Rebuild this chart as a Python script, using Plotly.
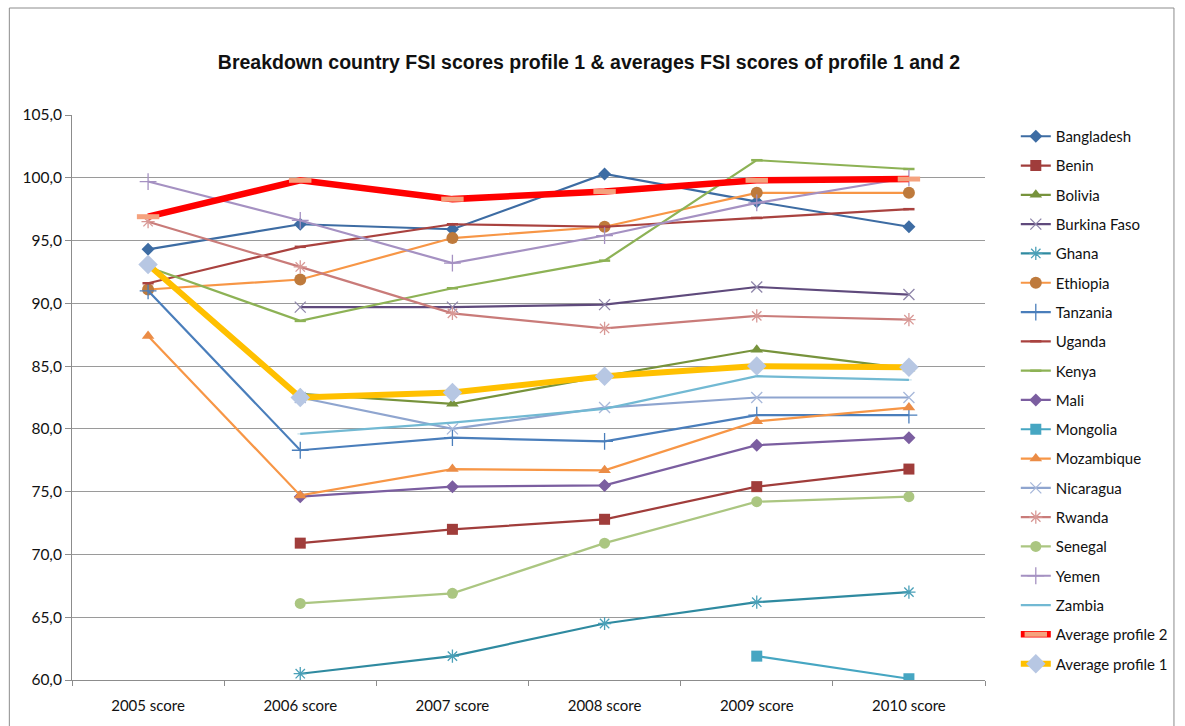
import plotly.graph_objects as go

categories = ["2005 score", "2006 score", "2007 score", "2008 score", "2009 score", "2010 score"]

bangladesh = [94.3, 96.3, 95.9, 100.3, 98.1, 96.1]
benin = [None, 70.9, 72.0, 72.8, 75.4, 76.8]
bolivia = [None, 82.8, 82.0, 84.2, 86.3, 84.8]
burkina_faso = [None, 89.7, 89.7, 89.9, 91.3, 90.7]
ghana = [None, 60.5, 61.9, 64.5, 66.2, 67.0]
ethiopia = [91.1, 91.9, 95.2, 96.1, 98.8, 98.8]
tanzania = [91.0, 78.3, 79.3, 79.0, 81.1, 81.1]
uganda = [91.6, 94.5, 96.3, 96.1, 96.8, 97.5]
kenya = [92.9, 88.6, 91.2, 93.4, 101.4, 100.7]
mali = [None, 74.6, 75.4, 75.5, 78.7, 79.3]
mongolia = [None, None, None, None, 61.9, 60.1]
mozambique = [87.4, 74.7, 76.8, 76.7, 80.6, 81.7]
nicaragua = [None, 82.5, 80.0, 81.7, 82.5, 82.5]
rwanda = [96.5, 92.9, 89.2, 88.0, 89.0, 88.7]
senegal = [None, 66.1, 66.9, 70.9, 74.2, 74.6]
yemen = [99.7, 96.6, 93.2, 95.4, 98.0, 100.0]
zambia = [None, 79.6, 80.5, 81.6, 84.2, 83.9]
average_profile_2 = [96.9, 99.8, 98.3, 98.9, 99.8, 99.9]
average_profile_1 = [93.1, 82.5, 82.9, 84.2, 85.0, 84.9]

# name, values, line colour, line width, marker symbol, marker colour, marker size, marker line width
series = [
    ("Bangladesh", bangladesh, "#3D6CA3", 2.2, "diamond", "#3D6CA3", 10, 0),
    ("Benin", benin, "#A03D3B", 2.2, "square", "#A03D3B", 11, 0),
    ("Bolivia", bolivia, "#77933C", 2.2, "triangle-up", "#77933C", 11, 0),
    ("Burkina Faso", burkina_faso, "#5F4A7C", 2.2, "x-thin", "#8F86AA", 11, 1.3),
    ("Ghana", ghana, "#2F8AA0", 2.2, "asterisk", "#4AA0B8", 11, 1.3),
    ("Ethiopia", ethiopia, "#F79646", 2.2, "circle", "#BE7A3C", 12, 0),
    ("Tanzania", tanzania, "#4A7EBB", 2.2, "cross-thin", "#4A7EBB", 12, 1.3),
    ("Uganda", uganda, "#A9423F", 2.2, "line-ew", "#A9423F", 8, 2.5),
    ("Kenya", kenya, "#8DB255", 2.2, "line-ew", "#8DB255", 8, 2.5),
    ("Mali", mali, "#7B5EA0", 2.2, "diamond", "#7B5EA0", 10, 0),
    ("Mongolia", mongolia, "#46A6C2", 2.2, "square", "#46A6C2", 11, 0),
    ("Mozambique", mozambique, "#F79646", 2.2, "triangle-up", "#EB8C46", 11, 0),
    ("Nicaragua", nicaragua, "#8FA5CF", 2.2, "x-thin", "#A8B8DA", 11, 1.3),
    ("Rwanda", rwanda, "#C97B79", 2.2, "asterisk", "#D89895", 11, 1.3),
    ("Senegal", senegal, "#ABC681", 2.2, "circle", "#ABC681", 11, 0),
    ("Yemen", yemen, "#A591C2", 2.2, "cross-thin", "#A591C2", 12, 1.3),
    ("Zambia", zambia, "#72B9D3", 2.2, "line-ew", "#72B9D3", 4, 0.5),
    ("Average profile 2", average_profile_2, "#FF0000", 6.5, "line-ew", "#F5A27E", 16, 5),
    ("Average profile 1", average_profile_1, "#FFC000", 6, "diamond", "#B7C7E3", 15, 0),
]

fig = go.Figure()
for i, (name, vals, lc, lw, sym, mc, ms, mlw) in enumerate(series):
    marker = dict(symbol=sym, color=mc, size=ms)
    if mlw:
        marker["line"] = dict(color=mc, width=mlw)
    else:
        marker["line"] = dict(width=0)
    fig.add_trace(go.Scatter(
        x=categories, y=vals, name=name, mode="lines+markers",
        line=dict(color=lc, width=lw), marker=marker,
        legendgroup=f"g{i}", connectgaps=False,
    ))

border = [
    dict(type="rect", xref="paper", yref="paper",
         x0=(9 - 72) / 918, x1=(1180 - 72) / 918,
         y0=(680 - 740) / 565, y1=(680 - 8) / 565,
         line=dict(color="#8C8C8C", width=1), fillcolor="rgba(0,0,0,0)", layer="below"),
]

fig.update_layout(
    width=1185, height=726,
    margin=dict(l=72, r=194, t=115, b=46),
    paper_bgcolor="white", plot_bgcolor="white",
    separators=",.",
    title=dict(text="<b>Breakdown country FSI scores profile 1 &amp; averages FSI scores of profile 1 and 2</b>",
               x=(589) / 1185, xanchor="center", y=1 - 62 / 726, yanchor="middle",
               font=dict(family="Liberation Sans, Arial", size=19.5, color="#111111")),
    font=dict(family="Lato, Carlito, Calibri, sans-serif", size=15, color="#111111"),
    showlegend=True,
    legend=dict(x=(1022 - 72) / 919, xanchor="left", y=(680 - 120) / 565, yanchor="top",
                traceorder="grouped", tracegroupgap=6.8,
                font=dict(family="Lato, Carlito, Calibri, sans-serif", size=15, color="#111111"),
                bgcolor="rgba(0,0,0,0)", itemwidth=30),
    xaxis=dict(type="category", range=[-0.5, 5.5], autorange=False, showgrid=False,
               showline=True, linecolor="#8C8C8C", linewidth=1,
               ticks="outside", tickson="boundaries", ticklen=5, tickcolor="#8C8C8C",
               ticklabelstandoff=12, tickfont=dict(size=15)),
    yaxis=dict(range=[60, 105], dtick=5, tickformat=".1f", showgrid=True, gridcolor="#9A9A9A",
               gridwidth=1, showline=True, linecolor="#8C8C8C", linewidth=1,
               ticks="outside", ticklen=6, tickcolor="#8C8C8C", zeroline=False,
               tickfont=dict(size=15.5)),
    shapes=border,
)

fig.write_html("out.html")
